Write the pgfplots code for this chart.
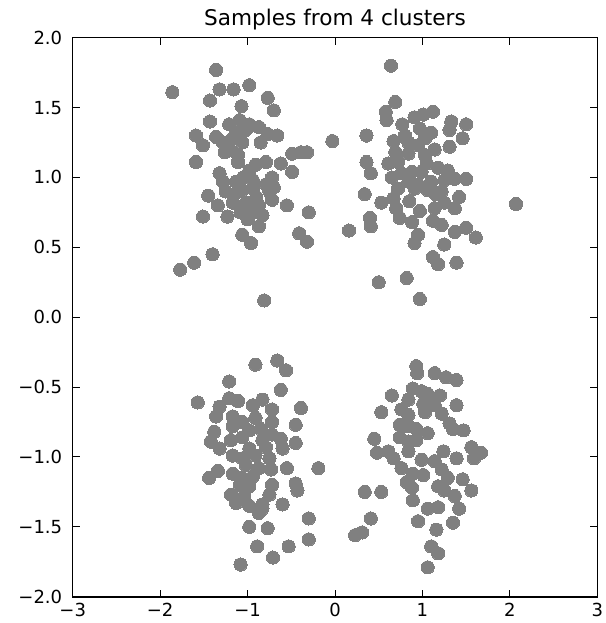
\documentclass[border=0pt]{standalone}
\usepackage{fontspec}
\setmainfont{DejaVu Sans}
\usepackage{pgfplots}
\pgfplotsset{compat=1.18}
\definecolor{dotgray}{RGB}{128,128,128}
\begin{document}
\begin{tikzpicture}
\begin{axis}[
  scale only axis,
  width=524.6pt, height=559pt,
  xmin=-3, xmax=3, ymin=-2, ymax=2,
  xtick={-3,-2,-1,0,1,2,3},
  xticklabels={−3,−2,−1,0,1,2,3},
  ytick={-2,-1.5,-1,-0.5,0,0.5,1,1.5,2},
  yticklabels={−2.0,−1.5,−1.0,−0.5,0.0,0.5,1.0,1.5,2.0},
  tick align=inside,
  major tick length=7pt,
  tick style={black, line width=0.9pt},
  axis line style={black, line width=1.6pt},
  tick label style={font=\fontsize{18}{18}\selectfont},
  yticklabel style={xshift=-7pt},
  xticklabel style={yshift=-3pt},
  title={Samples from 4 clusters},
  title style={font=\fontsize{21.6}{22}\selectfont, anchor=base, at={(0.5,1)}, yshift=6pt},
  clip=false,
]
\addplot[only marks, mark=*, mark size=6.6pt, color=dotgray, mark options={draw=dotgray, fill=dotgray, line width=0pt}] table {
x y
-1.36 1.77
-1.86 1.61
-1.32 1.63
-1.16 1.63
-0.98 1.66
-1.43 1.55
-0.77 1.57
-0.70 1.48
-1.07 1.51
-1.43 1.40
-0.03 1.26
-1.59 1.30
-1.51 1.23
-1.59 1.11
-1.11 1.16
-1.11 1.11
-1.21 1.38
-1.09 1.41
-0.98 1.38
-0.87 1.36
-1.13 1.32
-1.02 1.34
-0.77 1.31
-0.66 1.30
-1.36 1.29
-1.28 1.25
-1.06 1.25
-0.85 1.25
-1.26 1.18
-1.17 1.28
-0.49 1.17
-0.39 1.18
-0.32 1.18
-0.62 1.10
-0.49 1.04
-0.79 1.11
-0.91 1.09
-0.98 1.05
-1.32 1.03
-0.72 1.00
-1.28 0.97
-1.13 0.97
-0.94 0.98
-0.79 0.95
-1.45 0.87
-1.25 0.90
-1.06 0.91
-0.94 0.92
-0.75 0.90
-1.34 0.80
-1.17 0.82
-1.02 0.82
-0.87 0.80
-0.72 0.84
-0.55 0.80
-0.30 0.75
-1.51 0.72
-1.23 0.72
-1.08 0.75
-0.94 0.75
-0.83 0.73
-0.87 0.65
-1.06 0.59
-0.96 0.53
-0.41 0.60
-0.32 0.54
-1.40 0.45
-1.61 0.39
-1.77 0.34
-0.81 0.12
-1.20 1.20
-0.90 0.86
-1.00 0.70
-1.15 0.88
-0.70 0.93
-1.05 1.00
0.64 1.80
0.69 1.54
0.58 1.47
0.59 1.41
0.77 1.38
0.91 1.43
1.01 1.45
1.12 1.47
1.33 1.40
1.50 1.38
1.31 1.34
1.46 1.28
1.31 1.22
0.36 1.30
0.97 1.35
1.10 1.32
1.03 1.28
0.67 1.26
0.84 1.25
0.95 1.23
1.14 1.20
0.69 1.18
0.84 1.17
1.03 1.16
0.36 1.11
0.61 1.10
0.72 1.11
0.41 1.03
0.76 1.03
0.88 1.04
0.99 1.04
1.18 1.07
1.29 1.05
1.50 0.99
0.84 0.97
0.95 0.95
1.10 0.97
1.25 0.98
1.37 0.99
0.34 0.88
0.72 0.92
0.91 0.92
1.06 0.91
1.22 0.90
1.42 0.86
0.53 0.82
0.67 0.85
2.07 0.81
0.70 0.78
0.97 0.76
1.14 0.78
1.25 0.82
1.37 0.78
0.40 0.71
0.41 0.65
0.74 0.71
0.88 0.68
1.12 0.69
1.22 0.66
1.37 0.61
1.50 0.64
1.61 0.57
0.16 0.62
0.95 0.59
0.91 0.53
1.25 0.52
1.12 0.43
1.18 0.38
1.39 0.39
0.50 0.25
0.82 0.28
0.97 0.13
0.80 1.30
1.05 1.10
0.65 1.00
1.15 0.88
0.85 0.83
-0.91 -0.34
-0.66 -0.31
-0.56 -0.38
-1.21 -0.46
-0.62 -0.52
-1.57 -0.61
-1.32 -0.64
-1.21 -0.58
-1.11 -0.60
-0.94 -0.63
-0.83 -0.59
-0.72 -0.66
-0.39 -0.65
-1.36 -0.71
-1.17 -0.71
-1.06 -0.75
-0.91 -0.72
-0.72 -0.75
-0.45 -0.77
-1.38 -0.82
-1.17 -0.78
-0.98 -0.81
-0.85 -0.80
-1.42 -0.89
-1.19 -0.88
-1.06 -0.86
-0.83 -0.88
-0.72 -0.84
-0.62 -0.87
-0.45 -0.90
-1.32 -0.94
-0.98 -0.94
-0.79 -0.93
-0.60 -0.94
-1.17 -0.99
-1.06 -1.01
-0.91 -0.99
-0.75 -1.01
-1.02 -1.06
-0.87 -1.08
-0.73 -1.09
-0.55 -1.08
-0.19 -1.08
-1.44 -1.15
-1.34 -1.10
-1.17 -1.12
-1.06 -1.15
-0.94 -1.14
-1.09 -1.20
-0.98 -1.21
-0.72 -1.20
-0.45 -1.19
-0.43 -1.24
-1.19 -1.27
-1.04 -1.28
-0.75 -1.27
-1.13 -1.33
-0.98 -1.35
-0.83 -1.34
-0.60 -1.34
-0.87 -1.40
-0.83 -1.37
-0.30 -1.44
-0.98 -1.50
-0.77 -1.51
-0.89 -1.64
-0.53 -1.64
-0.30 -1.59
-0.71 -1.72
-1.08 -1.77
0.93 -0.35
0.94 -0.40
1.14 -0.40
1.27 -0.43
1.39 -0.45
0.65 -0.56
0.89 -0.51
0.99 -0.53
1.06 -0.55
1.20 -0.56
0.84 -0.59
1.01 -0.62
1.14 -0.63
1.39 -0.63
0.53 -0.68
0.76 -0.66
0.84 -0.70
1.03 -0.68
1.22 -0.69
1.31 -0.76
1.35 -0.80
1.47 -0.81
0.74 -0.77
0.84 -0.78
0.93 -0.80
1.06 -0.83
0.45 -0.87
0.74 -0.86
0.84 -0.89
0.93 -0.88
1.56 -0.93
1.67 -0.97
1.59 -1.01
0.48 -0.97
0.61 -0.96
0.67 -1.01
0.84 -0.96
0.99 -1.02
1.14 -1.03
1.24 -0.96
1.39 -1.01
0.76 -1.08
0.89 -1.12
1.01 -1.13
1.22 -1.09
1.29 -1.15
1.46 -1.16
1.56 -1.24
0.82 -1.18
0.88 -1.22
1.18 -1.21
1.25 -1.24
1.37 -1.28
0.34 -1.25
0.53 -1.25
0.89 -1.31
1.06 -1.37
1.18 -1.36
1.42 -1.37
0.41 -1.44
0.95 -1.46
1.16 -1.52
1.35 -1.47
0.23 -1.56
0.31 -1.54
1.10 -1.64
1.18 -1.69
1.06 -1.79
};
\end{axis}
\pgfresetboundingbox
\path (current axis.south west) ++(-72.7pt,-26.3pt) rectangle ([shift={(7.7pt,37.7pt)}]current axis.north east);
\end{tikzpicture}
\end{document}
